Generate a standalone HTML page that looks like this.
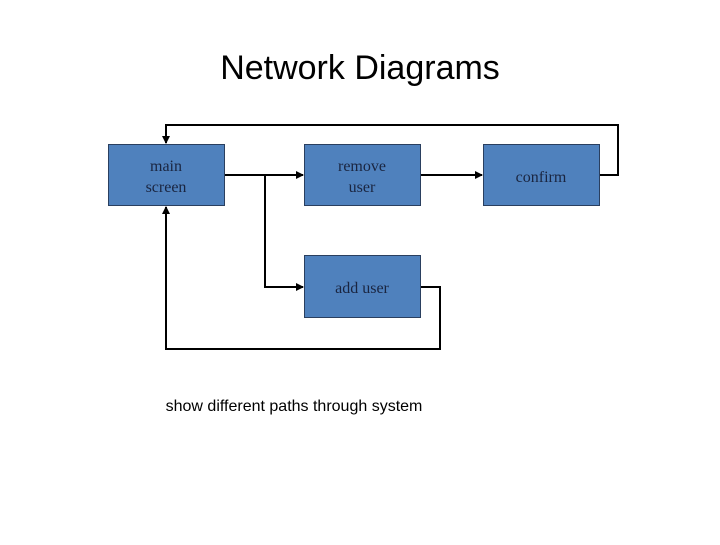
<!DOCTYPE html>
<html><head><style>
body{margin:0;width:720px;height:540px;background:#fff;overflow:hidden}
</style></head><body>
<svg width="720" height="540" xmlns="http://www.w3.org/2000/svg">
<defs><marker id="a" markerWidth="8" markerHeight="8" refX="7" refY="4" orient="auto" markerUnits="userSpaceOnUse"><path d="M0,0 L8,4 L0,8 z" fill="#000"/></marker></defs>
<text x="360" y="79" text-anchor="middle" font-family="Liberation Sans, sans-serif" font-size="34" fill="#000">Network Diagrams</text>
<g fill="#4f81bd" stroke="#2a3f5f" stroke-width="1">
<rect x="108.5" y="144.5" width="116" height="61"/>
<rect x="304.5" y="144.5" width="116" height="61"/>
<rect x="483.5" y="144.5" width="116" height="61"/>
<rect x="304.5" y="255.5" width="116" height="62"/>
</g>
<g fill="none" stroke="#000" stroke-width="2">
<path d="M225,175 H303" marker-end="url(#a)"/>
<path d="M265,175 V287 H303" marker-end="url(#a)"/>
<path d="M421,175 H482" marker-end="url(#a)"/>
<path d="M600,175 H618 V125 H166 V143" marker-end="url(#a)"/>
<path d="M421,287 H440 V349 H166 V207" marker-end="url(#a)"/>
</g>
<g font-family="Liberation Serif, serif" font-size="16" fill="#1a2540" text-anchor="middle">
<text x="166" y="171">main</text><text x="166" y="192">screen</text>
<text x="362" y="171">remove</text><text x="362" y="192">user</text>
<text x="541" y="182">confirm</text>
<text x="362" y="293">add user</text>
</g>
<text x="294" y="411" text-anchor="middle" font-family="Liberation Sans, sans-serif" font-size="16" fill="#000">show different paths through system</text>
</svg>
</body></html>
